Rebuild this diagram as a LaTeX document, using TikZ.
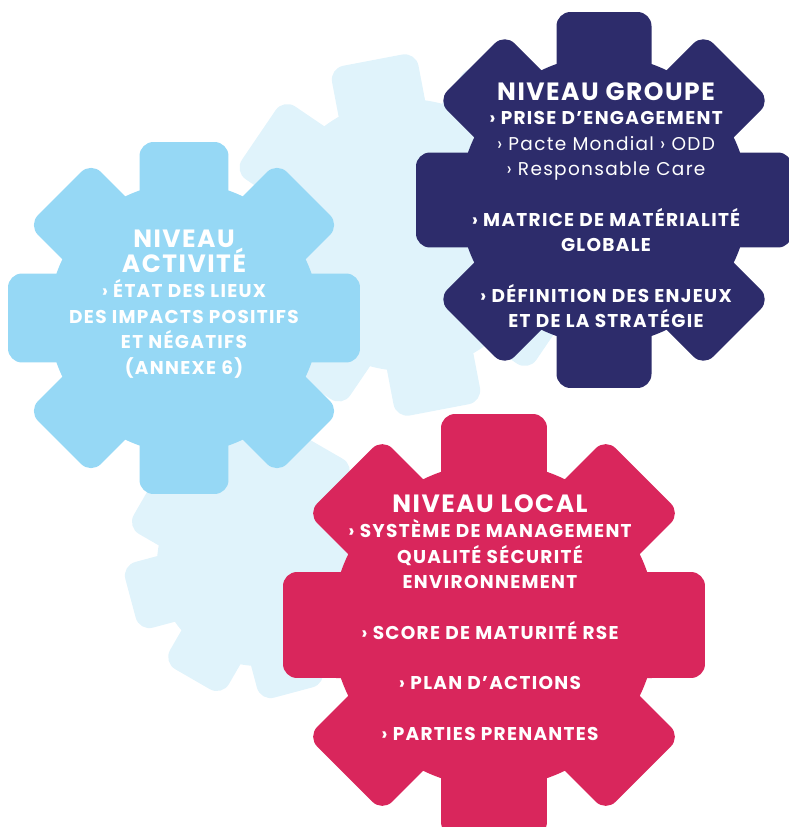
\documentclass[tikz,border=0pt]{standalone}
\usepackage{fontspec}
\setmainfont{Poppins}
\definecolor{gearNavy}{RGB}{45,44,107}
\definecolor{gearRose}{RGB}{217,38,92}
\definecolor{gearSky}{RGB}{150,216,245}
\definecolor{gearPale}{RGB}{224,243,251}
\usetikzlibrary{positioning}

% centre, outer radius, root radius, half tooth width, turn, colour
\newcommand{\gear}[6]{%
  \fill[#6] #1 circle[radius=#3];
  \foreach \k in {0,...,7}{
    \pgfmathsetmacro{\ta}{#5+45*\k}
    \pgfmathsetmacro{\tb}{atan(#4/#2)}
    \pgfmathsetmacro{\tr}{#2/cos(\tb)}
    \fill[#6, rounded corners=14pt, shift={#1}]
      (\ta-90:#4) -- (\ta-\tb:\tr) -- (\ta+\tb:\tr) -- (\ta+90:#4) -- cycle;
  }}

\begin{document}
\begin{tikzpicture}[x=1pt, y=-1pt,
  head/.style={text=white, inner sep=0pt, anchor=base, align=center,
               font=\bfseries\fontsize{25}{26}\selectfont\addfontfeature{LetterSpace=6}},
  items/.style={text=white, inner sep=0pt, align=center, anchor=north,
                font=\bfseries\fontsize{18.5}{25.5}\selectfont\addfontfeature{LetterSpace=7}}
]
  \clip (0,0) rectangle (789,827);

  % gears in the back
  \gear{(406,235)}{178}{136}{44}{-10.8}{gearPale}
  \gear{(259,564)}{133}{102}{34}{30}{gearPale}

  % the three levels
  \gear{(184,318)}{176}{135}{44.5}{0}{gearSky}
  \gear{(604,200)}{188}{144}{47.5}{0}{gearNavy}
  \gear{(494,625)}{211}{162}{53}{0}{gearRose}

  \node[head] (actHead) at (184,272) {NIVEAU\\[-1pt]ACTIVITÉ};
  \node[items] (actItems) at (184,279.5)
    {› ÉTAT DES LIEUX\\ DES IMPACTS POSITIFS\\ ET NÉGATIFS\\ (ANNEXE 6)};

  \node[head] (grpHead) at (606,100) {NIVEAU GROUPE};
  \node[items] (grpItems) at (606,111.5)
    {› PRISE D’ENGAGEMENT\\
     {\mdseries › Pacte Mondial › ODD}\\
     {\mdseries › Responsable Care}\\[25pt]
     › MATRICE DE MATÉRIALITÉ\\ GLOBALE\\[25pt]
     › DÉFINITION DES ENJEUX\\ ET DE LA STRATÉGIE};

  \node[head] (locHead) at (490,512) {NIVEAU LOCAL};
  \node[items] (locItems) at (490,519.5)
    {› SYSTÈME DE MANAGEMENT\\ QUALITÉ SÉCURITÉ\\ ENVIRONNEMENT\\[25pt]
     › SCORE DE MATURITÉ RSE\\[25pt]
     › PLAN D’ACTIONS\\[25pt]
     › PARTIES PRENANTES};
\end{tikzpicture}
\end{document}
